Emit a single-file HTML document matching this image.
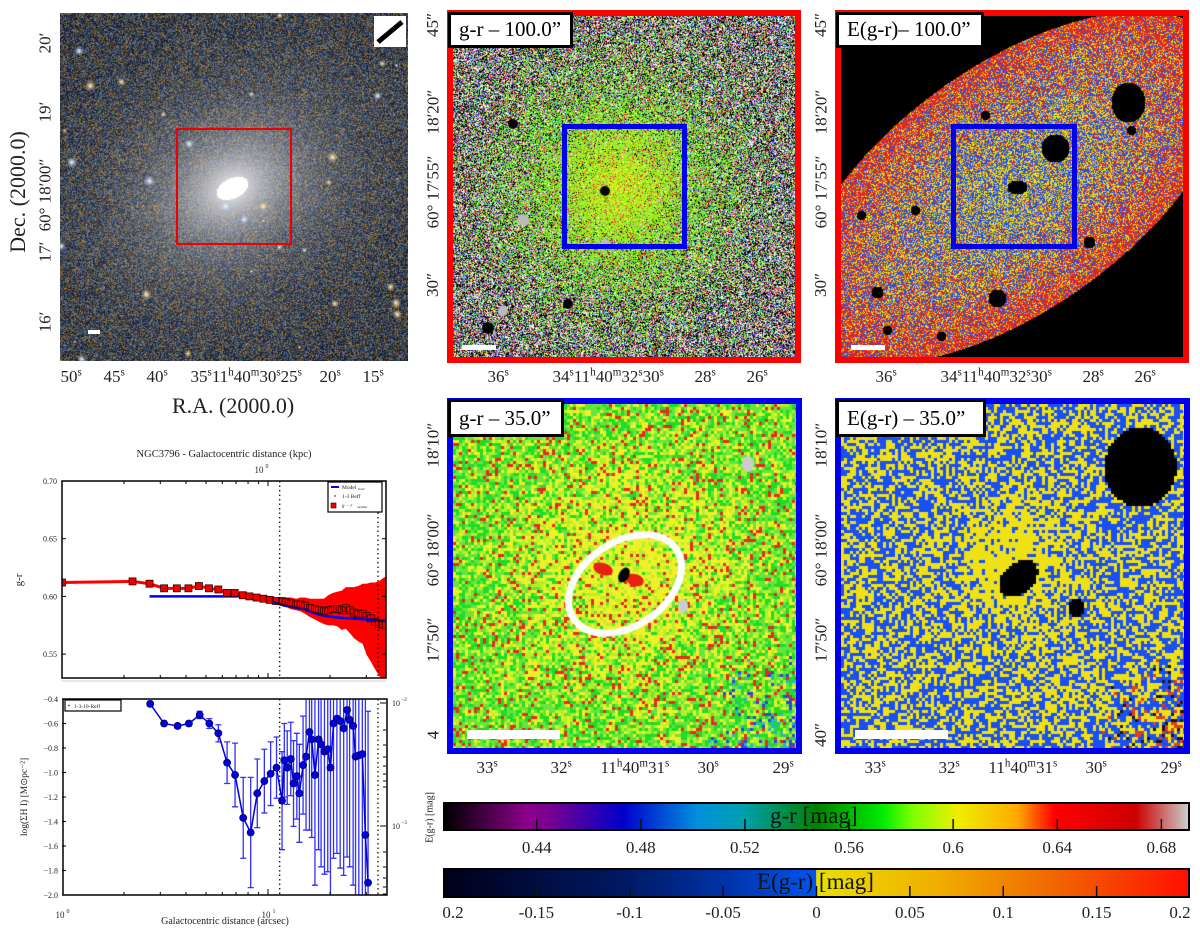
<!DOCTYPE html>
<html><head><meta charset="utf-8">
<style>
html,body{margin:0;padding:0;background:#fff;width:1200px;height:934px;overflow:hidden;}
body{position:relative;font-family:"Liberation Serif",serif;}
.abs{position:absolute;}
canvas{position:absolute;display:block;}
.lbl{position:absolute;font-family:"Liberation Serif",serif;color:#222;white-space:nowrap;}
.rot{transform:rotate(-90deg);transform-origin:center center;}
.tag{position:absolute;background:#fff;border:3px solid #000;font-size:21px;line-height:28px;padding:0 8px;box-sizing:border-box;}
</style></head>
<body>
<canvas id="cv-gal" width="348" height="348" style="left:60px;top:13px"></canvas>
<div class="abs" style="left:176px;top:128px;width:116px;height:117px;border:2px solid #e00;box-sizing:border-box"></div>
<div class="abs" style="left:374px;top:16px;width:32px;height:31px;background:#fff"><svg width="32" height="31"><line x1="4" y1="26" x2="28" y2="6" stroke="#000" stroke-width="5"/></svg></div>
<div class="abs" style="left:88px;top:330px;width:12px;height:4px;background:#fff"></div>

<div class="abs" style="left:447px;top:10px;width:354px;height:353px;background:#f00"></div>
<canvas id="cv-gr100" width="342" height="341" style="left:453px;top:16px"></canvas>
<div class="abs" style="left:562px;top:124px;width:125px;height:125px;border:5px solid #0000f0;box-sizing:border-box"></div>
<div class="tag" style="left:448px;top:12px;width:125px;height:36px">g-r – 100.0”</div>
<div class="abs" style="left:462px;top:345px;width:34px;height:5px;background:#fff"></div>

<div class="abs" style="left:835px;top:10px;width:354px;height:353px;background:#f00"></div>
<canvas id="cv-egr100" width="342" height="341" style="left:841px;top:16px"></canvas>
<div class="abs" style="left:951px;top:124px;width:126px;height:125px;border:5px solid #0000f0;box-sizing:border-box"></div>
<div class="tag" style="left:836px;top:12px;width:148px;height:36px">E(g-r)– 100.0”</div>
<div class="abs" style="left:851px;top:345px;width:34px;height:5px;background:#fff"></div>

<div class="abs" style="left:447px;top:398px;width:355px;height:356px;background:#0000f0"></div>
<canvas id="cv-gr35" width="343" height="344" style="left:453px;top:404px"></canvas>
<div class="tag" style="left:448px;top:399px;width:116px;height:38px;line-height:32px">g-r – 35.0”</div>
<div class="abs" style="left:467px;top:730px;width:93px;height:9px;background:#fff"></div>

<div class="abs" style="left:835px;top:398px;width:355px;height:356px;background:#0000f0"></div>
<canvas id="cv-egr35" width="343" height="344" style="left:841px;top:404px"></canvas>
<div class="tag" style="left:836px;top:399px;width:150px;height:38px;line-height:32px">E(g-r) – 35.0”</div>
<div class="abs" style="left:855px;top:730px;width:93px;height:9px;background:#fff"></div>

<div id="img-labels"></div>

<div class="abs" style="left:443px;top:802px;width:747px;height:29px;box-sizing:border-box;border:2px solid #000;background:linear-gradient(to right,#000 0%,#8b008b 11%,#7a0090 14%,#0000cc 24%,#0090dd 34%,#00a0b0 40%,#008000 50%,#00ee00 59%,#80ff00 63%,#eeee00 69%,#ffaa00 77%,#ff0000 82%,#cc0000 93%,#cccccc 100%)"></div>
<div class="lbl" style="left:770px;top:802px;font-size:23px;line-height:28px;color:#111">g-r [mag]</div>
<div class="abs" style="left:443px;top:868px;width:747px;height:30px;box-sizing:border-box;border:2px solid #000;background:linear-gradient(to right,#00001a 0%,#001a66 25%,#0033aa 38%,#0055ee 49.9%,#e8e000 50%,#f0b000 66%,#f07000 80%,#ff1000 100%)"></div>
<div class="lbl" style="left:757px;top:868px;font-size:23px;line-height:28px;color:#111">E(g-r) [mag]</div>
<div class="lbl rot" style="left:400px;top:812px;font-size:10px;width:60px;text-align:center">E(g-r) [mag]</div>
<svg id="cbsvg" class="abs" style="left:0;top:0" width="1200" height="934"></svg>

<svg id="prof" class="abs" style="left:0;top:0" width="420" height="934" font-family="Liberation Serif, serif"></svg>

<script>
// ---------- Chart data: g-r profile ----------
const grRadius = [1.0,2.2,2.66,3.13,3.61,4.11,4.62,5.17,5.74,6.31,6.89,7.55,8.12,8.8,9.5,10.2,10.9,11.65,12.2,12.9,13.7,14.4,15.1,16.0,16.9,17.7,18.7,19.6,20.6,21.7,22.8,23.9,25.0,26.1,27.4,28.8,30.1,31.5,33.0,34.5,36.3];
const grValue = [0.612,0.613,0.611,0.607,0.607,0.607,0.609,0.607,0.606,0.603,0.603,0.601,0.600,0.599,0.598,0.597,0.596,0.596,0.595,0.594,0.593,0.593,0.592,0.590,0.589,0.588,0.587,0.588,0.589,0.589,0.588,0.590,0.588,0.586,0.585,0.585,0.583,0.581,0.578,0.576,0.575];
const grError = [0.001,0.001,0.001,0.001,0.001,0.001,0.001,0.001,0.001,0.001,0.001,0.002,0.002,0.002,0.002,0.003,0.003,0.003,0.004,0.005,0.005,0.006,0.007,0.008,0.009,0.010,0.011,0.013,0.014,0.015,0.017,0.018,0.020,0.022,0.024,0.026,0.028,0.031,0.034,0.037,0.041];
const modelRadius = [2.66,8.0,9.0,10.0,11.0,12.0,13.0,15.0,17.0,19.0,21.0,25.0,30.0,37.4];
const modelValue = [0.600,0.600,0.599,0.597,0.594,0.592,0.591,0.589,0.585,0.583,0.582,0.581,0.580,0.579];
const grYTicks = [0.55,0.60,0.65,0.70];
const grYTickLabels = ["0.55","0.60","0.65","0.70"];
const reffLines = [11.4,34.2];
// ---------- Chart data: HI profile ----------
const hiRadius = [2.68,3.13,3.64,4.13,4.66,5.19,5.74,6.33,6.92,7.58,8.24,8.87,9.6,10.3,11.0,11.7,12.0,12.4,12.9,13.3,13.8,14.2,14.8,15.3,15.9,16.3,16.9,17.6,18.1,18.8,19.5,20.1,20.8,21.6,22.4,23.3,24.2,24.9,25.9,26.6,27.6,28.7,29.7,30.6];
const hiValue = [-0.44,-0.60,-0.62,-0.60,-0.53,-0.60,-0.68,-0.92,-1.02,-1.37,-1.49,-1.17,-1.07,-1.01,-0.96,-1.23,-0.90,-0.96,-0.89,-1.09,-1.03,-1.17,-0.94,-0.87,-0.67,-0.73,-1.02,-0.73,-0.77,-0.83,-0.81,-0.96,-0.60,-0.56,-0.58,-0.64,-0.49,-0.57,-0.62,-0.87,-0.86,-0.85,-1.51,-1.90];
const hiError = [0.02,0.02,0.02,0.02,0.03,0.04,0.07,0.17,0.26,0.33,0.45,0.28,0.26,0.26,0.25,0.40,0.30,0.30,0.30,0.35,0.35,0.40,0.40,0.60,0.80,0.80,0.90,0.90,1.0,1.0,1.0,1.1,1.1,1.1,1.2,1.2,1.2,1.2,1.3,1.3,1.3,1.3,1.4,1.4];
const hiYTicks = [-2.0,-1.8,-1.6,-1.4,-1.2,-1.0,-0.8,-0.6,-0.4];
const hiYTickLabels = ["−2.0","−1.8","−1.6","−1.4","−1.2","−1.0","−0.8","−0.6","−0.4"];
const hiReffLines = [11.4,34.2];
// ---------- Colorbar ticks ----------
const grBarTicks = [0.44,0.48,0.52,0.56,0.60,0.64,0.68];
const grBarLabels = ["0.44","0.48","0.52","0.56","0.6","0.64","0.68"];
const eBarTicks = [-0.2,-0.15,-0.1,-0.05,0,0.05,0.1,0.15,0.2];
const eBarLabels = ["0.2","-0.15","-0.1","-0.05","0","0.05","0.1","0.15","0.2"];

const NS='http://www.w3.org/2000/svg';
function mk(parent,tag,attrs){const e=document.createElementNS(NS,tag);for(const k in attrs)e.setAttribute(k,attrs[k]);parent.appendChild(e);return e;}
function txt(parent,x,y,s,size,anchor,extra){const t=mk(parent,'text',Object.assign({x:x,y:y,'font-size':size,'text-anchor':anchor||'middle',fill:'#222'},extra||{}));t.textContent=s;return t;}

const cb=document.getElementById('cbsvg');
const cbX0=443,cbX1=1190;
const gX=v=>cbX0+(v-0.404)/(0.691-0.404)*(cbX1-cbX0);
const eX=v=>cbX0+(v+0.2)/0.4*(cbX1-cbX0);
grBarTicks.forEach((v,i)=>{
  const l=mk(cb,'line',{x1:gX(v),x2:gX(v),y1:819,y2:829,stroke:'#111','stroke-width':1.5});
  
  
  const t=txt(cb,gX(v),853,grBarLabels[i],17);
  
  
});
eBarTicks.forEach((v,i)=>{
  if(i>0&&i<eBarTicks.length-1){
  const l=mk(cb,'line',{x1:eX(v),x2:eX(v),y1:886,y2:896,stroke:'#111','stroke-width':1.5});
  
  }
  let x=eX(v); if(i==0)x+=10; if(i==eBarTicks.length-1)x-=10;
  const t=txt(cb,x,918,eBarLabels[i],17);
  
  
});

const P=document.getElementById('prof');
const L0=62,DEC=206;
const X=r=>L0+DEC*Math.log10(r);
const gTop=481,gBot=678,gRight=386;
const Y=v=>gTop+(0.70-v)/0.05*57.7;
const hTop=699,hBot=895;
const Yh=v=>hTop+(-0.4-v)/1.6*(hBot-hTop);
let defs=mk(P,'defs',{});
let c1=mk(defs,'clipPath',{id:'cg'});mk(c1,'rect',{x:L0,y:gTop,width:gRight-L0,height:gBot-gTop});
let c2=mk(defs,'clipPath',{id:'ch'});mk(c2,'rect',{x:L0,y:hTop,width:gRight-L0,height:hBot-hTop});
txt(P,224,457,'NGC3796 - Galactocentric distance (kpc)',10.5);
txt(P,259,473,'10',9);txt(P,267,468,'0',6);
const gg=mk(P,'g',{'clip-path':'url(#cg)'});
// error band (upper edge forward, lower edge backward)
const nG=grRadius.length;
let band='M'+X(grRadius[0])+','+Y(grValue[0]+grError[0]);
for(let i=1;i<nG;i++)band+='L'+X(grRadius[i])+','+Y(grValue[i]+grError[i]);
band+='L'+(gRight+2)+','+Y(grValue[nG-1]+grError[nG-1]*1.05);
band+='L'+(gRight+2)+','+Y(grValue[nG-1]-grError[nG-1]*1.2);
for(let i=nG-1;i>=0;i--)band+='L'+X(grRadius[i])+','+Y(grValue[i]-grError[i]*(i>nG-6?1.2:1));
band+='Z';
const bandEl=mk(gg,'path',{d:band,fill:'#f00'});


let pl='';grRadius.forEach((r,i)=>{pl+=(i?'L':'M')+X(r)+','+Y(grValue[i]);});
const grLine=mk(gg,'path',{d:pl,fill:'none',stroke:'#f00','stroke-width':3});


let ml='';modelRadius.forEach((r,i)=>{ml+=(i?'L':'M')+X(r)+','+Y(modelValue[i]);});
const mdl=mk(gg,'path',{d:ml,fill:'none',stroke:'#0000ee','stroke-width':2.5});


grRadius.forEach((r,i)=>{
  const s=mk(gg,'rect',{x:X(r)-3.5,y:Y(grValue[i])-3.5,width:7,height:7,fill:i<16?'#e00':'none',stroke:'#300','stroke-width':0.8});
  
  
});
reffLines.forEach(r=>{const l=mk(P,'line',{x1:X(r),x2:X(r),y1:gTop,y2:gBot,stroke:'#000','stroke-width':1.2,'stroke-dasharray':'1.5,3'});
  
  });
mk(P,'rect',{x:L0,y:gTop,width:gRight-L0,height:gBot-gTop,fill:'none',stroke:'#000','stroke-width':1.5});
grYTicks.forEach((v,i)=>{mk(P,'line',{x1:L0,x2:L0+4,y1:Y(v),y2:Y(v),stroke:'#000'});mk(P,'line',{x1:gRight-4,x2:gRight,y1:Y(v),y2:Y(v),stroke:'#000'});
  const t=txt(P,L0-5,Y(v)+3,grYTickLabels[i],8,'end');
  
  });
[2,3,4,5,6,7,8,9,10,20,30].forEach(r=>{mk(P,'line',{x1:X(r),x2:X(r),y1:gTop,y2:gTop+(r==10?5:3),stroke:'#000'});mk(P,'line',{x1:X(r),x2:X(r),y1:gBot-(r==10?5:3),y2:gBot,stroke:'#000'});});
const gyl=txt(P,0,0,'g-r',11,'middle',{transform:'translate(22,580) rotate(-90)'});


const lg=mk(P,'g',{});


mk(lg,'rect',{x:328,y:482,width:54,height:30,fill:'#fff',stroke:'#000','stroke-width':1.2});
mk(lg,'line',{x1:331,x2:339,y1:487,y2:487,stroke:'#00e','stroke-width':2});
txt(lg,342,489,'Model',5.5,'start');txt(lg,358,490,'final',3.5,'start',{'font-style':'italic'});
mk(lg,'circle',{cx:335,cy:496,r:0.7,fill:'#000'});txt(lg,342,498,'1-3 Reff',5.5,'start');
mk(lg,'rect',{x:331,y:503,width:5,height:5,fill:'#e00',stroke:'#300','stroke-width':0.6});
txt(lg,342,507,'g − r',5,'start',{'font-style':'italic'});txt(lg,357,508,'median',3.5,'start',{'font-style':'italic'});
mk(P,'line',{x1:62,x2:386,y1:681,y2:681,stroke:'#ccc','stroke-width':1});

const hg=mk(P,'g',{'clip-path':'url(#ch)'});
hiRadius.forEach((r,i)=>{
  const x=X(r),y1=Yh(hiValue[i]+hiError[i]),y2=Yh(hiValue[i]-hiError[i]);
  const e=mk(hg,'path',{d:`M${x},${y1}L${x},${y2}M${x-3},${y1}L${x+3},${y1}M${x-3},${y2}L${x+3},${y2}`,stroke:'#3030ff','stroke-width':1.3,fill:'none'});
  
  
});
let hl='';hiRadius.forEach((r,i)=>{hl+=(i?'L':'M')+X(r)+','+Yh(hiValue[i]);});
const hiLine=mk(hg,'path',{d:hl,fill:'none',stroke:'#0000dd','stroke-width':1.5});


hiRadius.forEach((r,i)=>{
  const c=mk(hg,'circle',{cx:X(r),cy:Yh(hiValue[i]),r:3.6,fill:'#0000e0',stroke:'#000030','stroke-width':0.6});
  
  
});
hiReffLines.forEach(r=>{const l=mk(P,'line',{x1:X(r),x2:X(r),y1:hTop,y2:hBot,stroke:'#000','stroke-width':1.2,'stroke-dasharray':'1.5,3'});
  
  });
mk(P,'rect',{x:L0+1,y:hTop,width:gRight-L0,height:hBot-hTop,fill:'none',stroke:'#000','stroke-width':1.5});
hiYTicks.forEach((v,i)=>{mk(P,'line',{x1:L0,x2:L0+4,y1:Yh(v),y2:Yh(v),stroke:'#000'});
  const t=txt(P,L0-4,Yh(v)+3,hiYTickLabels[i],8,'end');
  
  });
[2,3,4,5,6,7,8,9,10,20,30].forEach(r=>{mk(P,'line',{x1:X(r),x2:X(r),y1:hBot-(r==10?6:3),y2:hBot,stroke:'#000'});});
[703,730,745,757,766,774,781,787,826,852,867,878,887,894].forEach(y=>{mk(P,'line',{x1:gRight-(y==703||y==826?6:3),x2:gRight,y1:y,y2:y,stroke:'#000'});});
txt(P,392,706,'10',8,'start');txt(P,401,701,'−2',5.5,'start');
txt(P,392,829,'10',8,'start');txt(P,401,824,'−3',5.5,'start');
txt(P,60,918,'10',9);txt(P,68,913,'0',6);
txt(P,266,918,'10',9);txt(P,274,913,'1',6);
const hxl=txt(P,225,924,'Galactocentric distance (arcsec)',10);


const hyl=txt(P,0,0,'log(ΣH I) [M⊙pc⁻²]',9.5,'middle',{transform:'translate(27,797) rotate(-90)'});


const hlg=mk(P,'g',{});


mk(hlg,'rect',{x:65,y:700,width:56,height:11,fill:'#fff',stroke:'#000','stroke-width':1.2});
mk(hlg,'circle',{cx:69,cy:705.5,r:0.7,fill:'#000'});
txt(hlg,74,708,'1-3-10-Reff',5.5,'start');

const IL=document.getElementById('img-labels');
function lab(x,y,html,size,rot,name){const d=document.createElement('div');d.className='lbl';d.innerHTML=html;d.style.fontSize=size+'px';
  
  
  IL.appendChild(d);const w=d.offsetWidth,h=d.offsetHeight;d.style.left=(x-w/2)+'px';d.style.top=(y-h/2)+'px';if(rot)d.style.transform='rotate(-90deg)';}
const sup=s=>'<sup style="font-size:65%;line-height:0">'+s+'</sup>';
lab(45,43,"20′",17,1,'dec-tick-label');lab(45,112,"19′",17,1,'dec-tick-label');lab(45,195,"60° 18′00″",17,1,'dec-tick-label');lab(45,252,"17′",17,1,'dec-tick-label');lab(45,322,"16′",17,1,'dec-tick-label');
lab(18,192,"Dec. (2000.0)",22,1,'dec-axis-title');
[[71,'50'],[114,'45'],[157,'40'],[330,'20'],[373,'15']].forEach(a=>lab(a[0],377,a[1]+sup('s'),17,0,'ra-tick-label'));
lab(246,377,'35'+sup('s')+'11'+sup('h')+'40'+sup('m')+'30'+sup('s')+'25'+sup('s'),17,0,'ra-tick-label');
lab(233,406,"R.A. (2000.0)",22,0,'ra-axis-title');
[0,388].forEach(o=>{
  lab(433+o,25,"45″",17,1,'dec-tick-label');lab(433+o,112,"18′20″",17,1,'dec-tick-label');lab(433+o,192,"60° 17′55″",17,1,'dec-tick-label');lab(433+o,285,"30″",17,1,'dec-tick-label');
  lab(498+o,377,'36'+sup('s'),17,0,'ra-tick-label');lab(608+o,377,'34'+sup('s')+'11'+sup('h')+'40'+sup('m')+'32'+sup('s')+'30'+sup('s'),17,0,'ra-tick-label');
  lab(705+o,377,'28'+sup('s'),17,0,'ra-tick-label');lab(757+o,377,'26'+sup('s'),17,0,'ra-tick-label');
  lab(433+o,445,"18′10″",17,1,'dec-tick-label');lab(433+o,550,"60° 18′00″",17,1,'dec-tick-label');lab(433+o,640,"17′50″",17,1,'dec-tick-label');lab(433+o,735,o?"40″":"4",17,1,'dec-tick-label');
  lab(487+o,768,'33'+sup('s'),17,0,'ra-tick-label');lab(561+o,768,'32'+sup('s'),17,0,'ra-tick-label');lab(635+o,768,'11'+sup('h')+'40'+sup('m')+'31'+sup('s'),17,0,'ra-tick-label');
  lab(708+o,768,'30'+sup('s'),17,0,'ra-tick-label');lab(783+o,768,'29'+sup('s'),17,0,'ra-tick-label');
});

// ---------- decorative image textures ----------
let seed=12345;function rnd(){seed|=0;seed=seed+0x6D2B79F5|0;let t=Math.imul(seed^seed>>>15,1|seed);t=t+Math.imul(t^t>>>7,61|t)^t;return((t^t>>>14)>>>0)/4294967296;}
function paint(id,fn,block){const c=document.getElementById(id),ctx=c.getContext('2d'),W=c.width,H=c.height;const img=ctx.createImageData(W,H);const d=img.data;
  for(let y=0;y<H;y+=block)for(let x=0;x<W;x+=block){const col=fn(x,y,W,H);for(let yy=y;yy<Math.min(H,y+block);yy++)for(let xx=x;xx<Math.min(W,x+block);xx++){const k=(yy*W+xx)*4;d[k]=col[0];d[k+1]=col[1];d[k+2]=col[2];d[k+3]=255;}}
  ctx.putImageData(img,0,0);return ctx;}
function ell(x,y,cx,cy,a,b,ang){const c=Math.cos(ang),s=Math.sin(ang);const dx=x-cx,dy=y-cy;const u=dx*c+dy*s,v=-dx*s+dy*c;return Math.sqrt(u*u/(a*a)+v*v/(b*b));}
const galCtx=paint('cv-gal',(x,y)=>{
  const r=rnd();let c=r<0.4?[25,35,65]:r<0.7?[140,110,55]:[65,95,135];const s=0.5+rnd()*0.7;c=c.map(v=>v*s);
  const d=ell(x,y,172,175,1,0.78,-0.45);const g=Math.exp(-d/62)*1.25;const h=Math.min(1,g);
  c=c.map((v,i)=>v*(1-h)+[210,210,215][i]*h);
  if(ell(x,y,172,175,17,10,-0.45)<1)c=[255,255,255];
  return c;},1);
for(let i=0;i<35;i++){const x=rnd()*348,y=rnd()*348,r=0.8+rnd()*2.2;const g=galCtx.createRadialGradient(x,y,0,x,y,r*2);g.addColorStop(0,'rgba(255,255,240,1)');g.addColorStop(1,rnd()<0.6?'rgba(220,170,80,0)':'rgba(150,190,255,0)');galCtx.fillStyle=g;galCtx.beginPath();galCtx.arc(x,y,r*2,0,7);galCtx.fill();}
// gr100
const pal=[[255,255,255],[255,255,255],[0,0,0],[0,0,0],[0,0,0],[20,20,20],[150,150,150],[200,200,200],[230,40,40],[40,200,40],[60,60,230],[240,240,60],[200,60,200],[60,200,200]];
paint('cv-gr100',(x,y)=>{const d=Math.hypot(x-164,y-171);const w=Math.exp(-Math.pow(d/105,2))*1.0;
  if(rnd()<w){const r=rnd();const t=Math.min(1,Math.max(0,1-d/90));return r<0.1?[230,60,30]:[90+160*t*rnd()+rnd()*50,220+rnd()*35,20+rnd()*30];}
  return pal[Math.floor(rnd()*pal.length)];},1);
{const ctx=document.getElementById('cv-gr100').getContext('2d');ctx.fillStyle='#000';[[60,108,5],[459,110,5],[152,175,5],[115,288,5],[35,312,6]].forEach(p=>{ctx.beginPath();ctx.arc(p[0],p[1],p[2],0,7);ctx.fill();});
 ctx.fillStyle='#bbb';[[70,204,6],[152,228,5],[50,295,5]].forEach(p=>{ctx.beginPath();ctx.arc(p[0],p[1],p[2],0,7);ctx.fill();});}
// egr100
const holes100=[[287,86,17,20],[214,132,14,14],[176,171,10,7],[156,282,9,9],[248,226,6,6],[36,276,6,6],[46,314,5,5],[309,307,7,7],[319,236,6,6],[271,299,5,5],[74,194,5,5],[144,99,5,5],[20,199,5,5],[290,114,5,5],[100,320,5,5]];
paint('cv-egr100',(x,y)=>{const e=ell(x,y,171,171,250,122,-0.62);if(e>1)return[0,0,0];
  for(const h of holes100){if(Math.pow((x-h[0])/h[2],2)+Math.pow((y-h[1])/h[3],2)<1)return[0,0,0];}
  const r=rnd();const pr=0.08+0.6*e*e;const py=(1-pr)*0.5;
  if(r<pr)return[235,40,20];if(r<pr+py)return[235,225,20];return[30,80,240];},1);
// gr35
paint('cv-gr35',(x,y)=>{const px=x+453,py=y+404;const d=Math.hypot(px-625,py-570);const w=Math.exp(-Math.pow(d/110,2));
  const br=Math.max(0,(px-700)/100)*Math.max(0,(py-650)/100);const r=rnd();
  if(r<br*0.5)return rnd()<0.5?[40,70,230]:[40,180,200];
  const r2=rnd();
  if(r2<0.1)return[235,40,30];
  if(r2<0.1+0.12+0.5*w)return[240,240,40];
  if(r2<0.1+0.3+0.55*w)return[180,240,40];
  return rnd()<0.5?[30,220,40]:[100,230,60];},3);
{const ctx=document.getElementById('cv-gr35').getContext('2d');
 ctx.fillStyle='#e82010';ctx.beginPath();ctx.ellipse(150,165,10,6,0.3,0,7);ctx.fill();ctx.beginPath();ctx.ellipse(182,176,9,6,0.3,0,7);ctx.fill();
 ctx.fillStyle='#000';ctx.beginPath();ctx.ellipse(171,171,5,8,0.5,0,7);ctx.fill();
 ctx.fillStyle='#ccc';ctx.beginPath();ctx.ellipse(295,60,6,8,0,0,7);ctx.fill();ctx.beginPath();ctx.ellipse(230,202,5,7,0,0,7);ctx.fill();
 ctx.strokeStyle='#fff';ctx.lineWidth=7;ctx.beginPath();ctx.ellipse(172,180,62,42,-0.6,0,7);ctx.stroke();}
// egr35
paint('cv-egr35',(x,y)=>{const px=x+841,py=y+404;
  if(Math.pow((px-1139)/36,2)+Math.pow((py-466)/40,2)<1)return[0,0,0];
  if(ell(px,py,1017,577,22,15,-0.7)<1)return[0,0,0];
  if(Math.hypot(px-1075,py-606)<9)return[0,0,0];
  const near=Math.exp(-Math.pow(Math.hypot(px-1010,py-560)/50,2));
  const br=Math.max(0,(px-1100)/90)*Math.max(0,(py-650)/100);
  const r=rnd();if(r<br*0.6)return rnd()<0.5?[230,60,30]:[20,20,40];
  if(rnd()<0.5+0.45*near)return[240,225,20];return[25,80,245];},3);
</script>
</body></html>
